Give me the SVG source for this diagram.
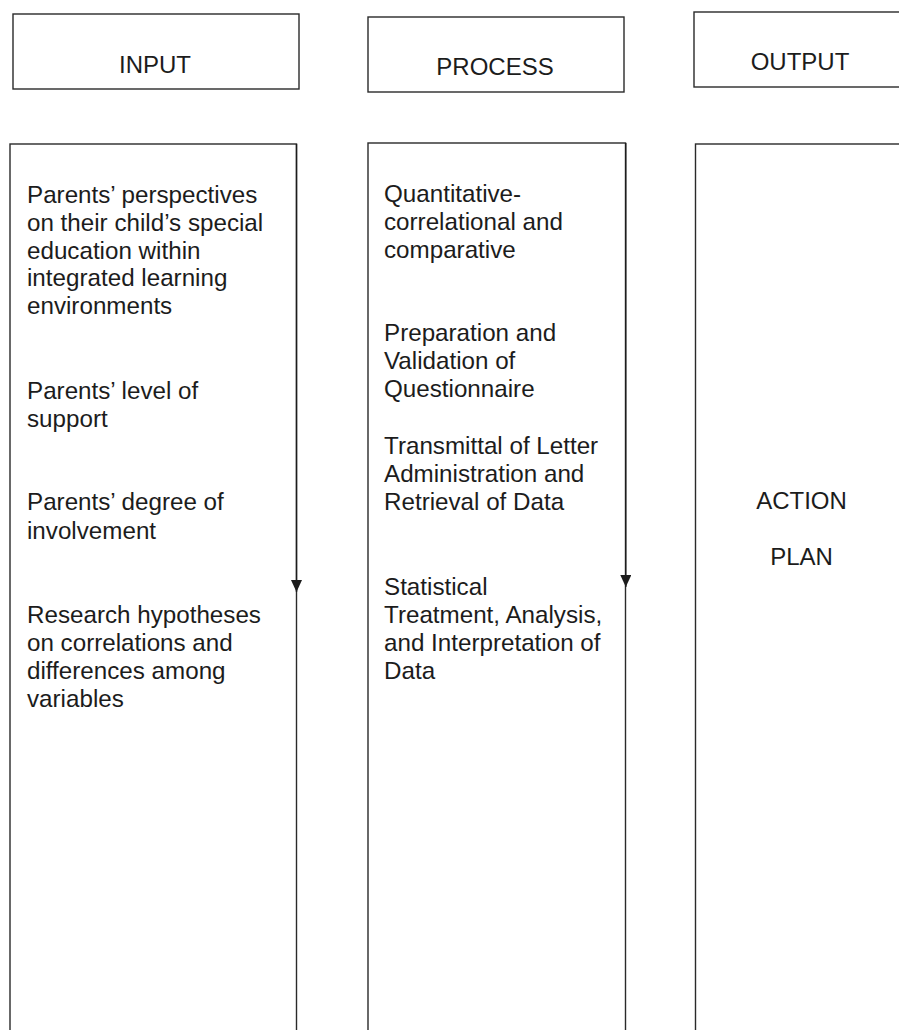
<svg xmlns="http://www.w3.org/2000/svg" width="899" height="1030" viewBox="0 0 899 1030">
<style>
.box{fill:#fff;stroke:#2a2a2a;stroke-width:1.4}
.t{font-family:"Liberation Sans",Arial,sans-serif;font-size:24.2px;fill:#1c1c1c}
.h{font-family:"Liberation Sans",Arial,sans-serif;font-size:24px;fill:#1c1c1c;text-anchor:middle}
.conn{stroke:#1c1c1c;stroke-width:1.4;fill:none}
</style>
<defs>
<marker id="ah" markerWidth="12" markerHeight="11" refX="12" refY="5.5" orient="auto" markerUnits="userSpaceOnUse" viewBox="0 0 12 11">
<path d="M0,0 L12,5.5 L0,11 Z" fill="#1c1c1c"/>
</marker>
</defs>
<rect width="899" height="1030" fill="#fff"/>
<g id="input-header"><rect class="box" x="13" y="14" width="286" height="75"/><text class="h" x="155" y="72.5">INPUT</text></g>
<g id="process-header"><rect class="box" x="368" y="17" width="256" height="75"/><text class="h" x="495" y="75">PROCESS</text></g>
<g id="output-header"><rect class="box" x="694" y="12" width="220" height="75"/><text class="h" x="800" y="70">OUTPUT</text></g>
<g id="input-body"><rect class="box" x="10" y="144" width="286.5" height="900"/>
<text class="t"><tspan x="27" y="203">Parents’ perspectives</tspan><tspan x="27" y="231">on their child’s special</tspan><tspan x="27" y="258.5">education within</tspan><tspan x="27" y="286">integrated learning</tspan><tspan x="27" y="314">environments</tspan></text>
<text class="t"><tspan x="27" y="398.5">Parents’ level of</tspan><tspan x="27" y="427">support</tspan></text>
<text class="t"><tspan x="27" y="510">Parents’ degree of</tspan><tspan x="27" y="538.5">involvement</tspan></text>
<text class="t"><tspan x="27" y="622.5">Research hypotheses</tspan><tspan x="27" y="650.5">on correlations and</tspan><tspan x="27" y="678.5">differences among</tspan><tspan x="27" y="706.5">variables</tspan></text>
</g>
<g id="process-body"><rect class="box" x="368" y="143" width="257.5" height="900"/>
<text class="t"><tspan x="384" y="201.5">Quantitative-</tspan><tspan x="384" y="229.5">correlational and</tspan><tspan x="384" y="257.5">comparative</tspan></text>
<text class="t"><tspan x="384" y="341">Preparation and</tspan><tspan x="384" y="369">Validation of</tspan><tspan x="384" y="397">Questionnaire</tspan></text>
<text class="t"><tspan x="384" y="453.5">Transmittal of Letter</tspan><tspan x="384" y="481.5">Administration and</tspan><tspan x="384" y="509.5">Retrieval of Data</tspan></text>
<text class="t"><tspan x="384" y="595">Statistical</tspan><tspan x="384" y="623">Treatment, Analysis,</tspan><tspan x="384" y="650.5">and Interpretation of</tspan><tspan x="384" y="678.5">Data</tspan></text>
</g>
<g id="output-body"><rect class="box" x="695.5" y="144" width="220" height="900"/>
<text class="h" x="801.5" y="508.5">ACTION</text>
<text class="h" x="801.5" y="565">PLAN</text>
</g>
<g id="connectors">
<path class="conn" d="M296.5,144 L296.5,592" marker-end="url(#ah)"/>
<path class="conn" d="M625.8,143 L625.8,587" marker-end="url(#ah)"/>
</g>
</svg>
